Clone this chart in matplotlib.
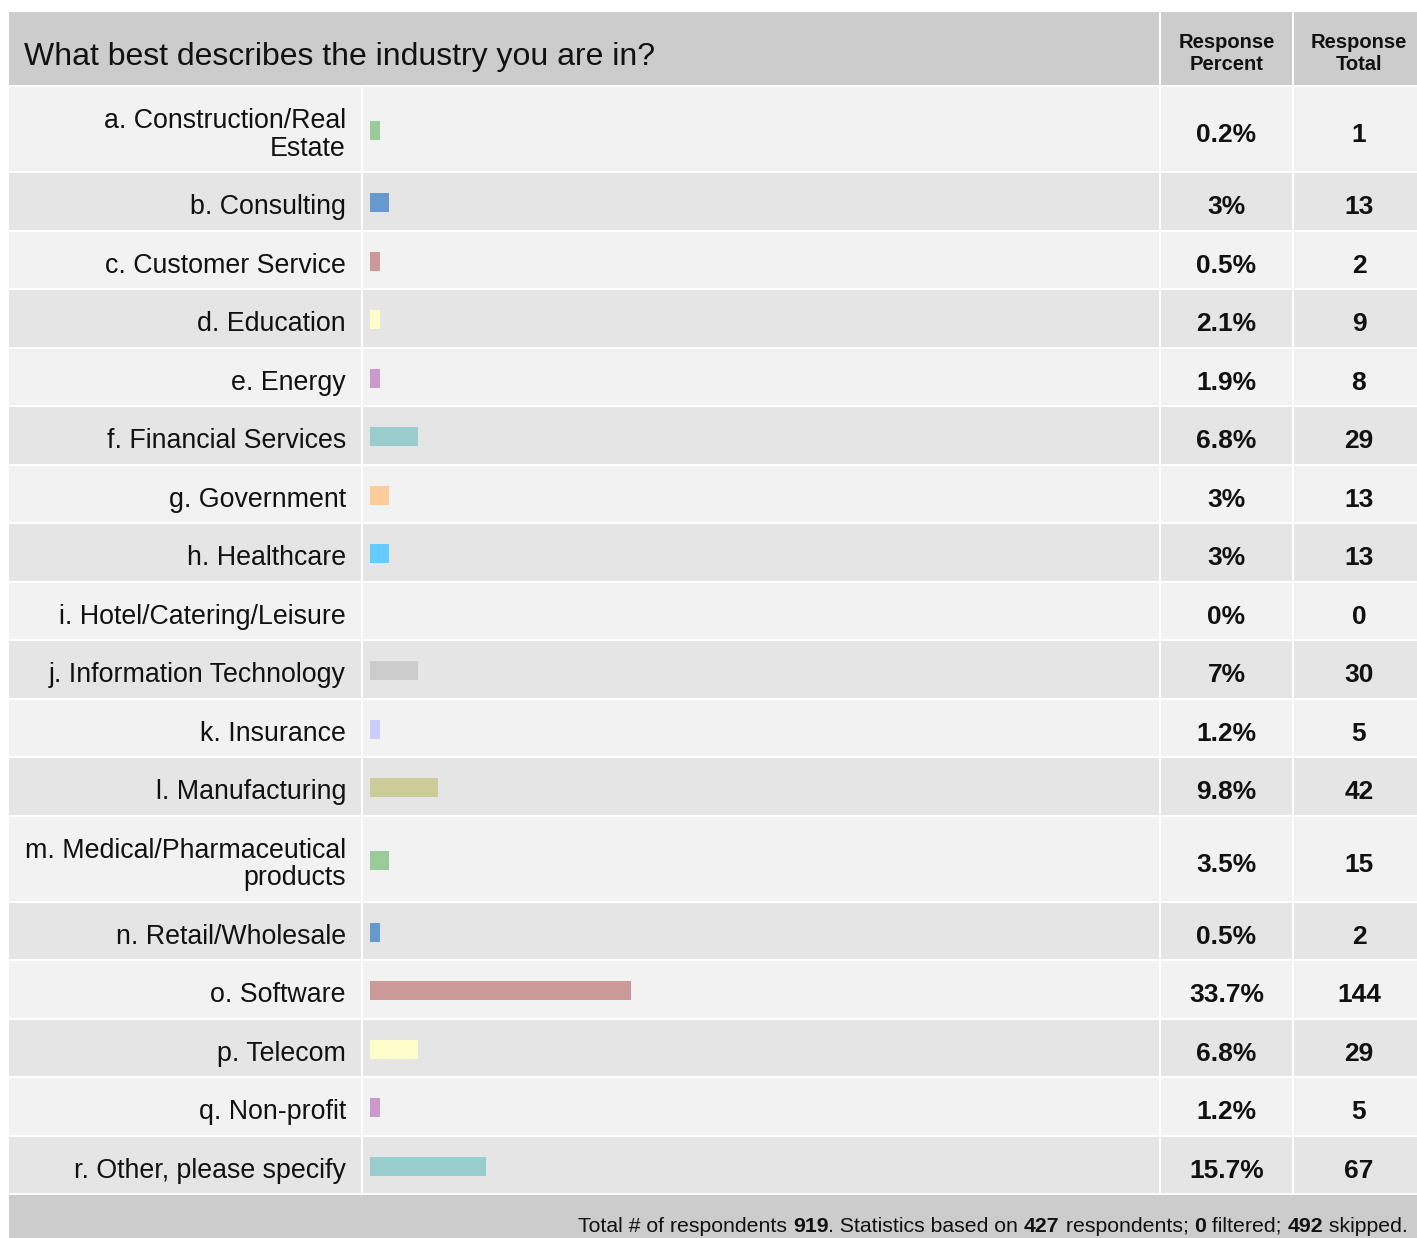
import matplotlib
matplotlib.use("Agg")
import matplotlib.pyplot as plt
from matplotlib.patches import Rectangle
import math

plt.rcParams['font.family'] = ['Liberation Sans', 'DejaVu Sans']

title = "What best describes the industry you are in?"
categories = [
    "a. Construction/Real\nEstate", "b. Consulting", "c. Customer Service",
    "d. Education", "e. Energy", "f. Financial Services", "g. Government",
    "h. Healthcare", "i. Hotel/Catering/Leisure", "j. Information Technology",
    "k. Insurance", "l. Manufacturing", "m. Medical/Pharmaceutical\nproducts",
    "n. Retail/Wholesale", "o. Software", "p. Telecom", "q. Non-profit",
    "r. Other, please specify",
]
percent_labels = ["0.2%", "3%", "0.5%", "2.1%", "1.9%", "6.8%", "3%", "3%", "0%",
                  "7%", "1.2%", "9.8%", "3.5%", "0.5%", "33.7%", "6.8%", "1.2%", "15.7%"]
totals = [1, 13, 2, 9, 8, 29, 13, 13, 0, 30, 5, 42, 15, 2, 144, 29, 5, 67]
bar_colors = ["#99cc99", "#6699cc", "#cc9999", "#ffffcc", "#cc99cc", "#99cccc",
              "#ffcc99", "#66ccff", "#ffffff", "#cccccc", "#ccccff", "#cccc99",
              "#99cc99", "#6699cc", "#cc9999", "#ffffcc", "#cc99cc", "#99cccc"]
header_cols = ["Response\nPercent", "Response\nTotal"]
footer_parts = [("Total # of respondents ", False), ("919", True),
                (". Statistics based on ", False), ("427", True),
                (" respondents; ", False), ("0", True), (" filtered; ", False),
                ("492", True), (" skipped.", False)]

W, H = 1417, 1238
fig = plt.figure(figsize=(W / 100, H / 100), dpi=100)
ax = fig.add_axes([0, 0, 1, 1])
ax.set_xlim(0, W)
ax.set_ylim(H, 0)
ax.axis("off")

# layout
x0, x_lab, x_bar, x_pct, x1 = 9, 361, 1159, 1292, 1417
gap = 2
top = 12
header_bot = 85
pitch_single, pitch_double = 58.5, 86
txt = "#111111"
pct_cx = (x_bar + gap + x_pct) / 2
tot_cx = 1359

# header
ax.add_patch(Rectangle((x0, top), x_bar - x0, header_bot - top, color="#cccccc", lw=0))
ax.add_patch(Rectangle((x_bar + gap, top), x_pct - x_bar - gap, header_bot - top, color="#cccccc", lw=0))
ax.add_patch(Rectangle((x_pct + gap, top), x1 - x_pct - gap, header_bot - top + 0, color="#cccccc", lw=0))
ax.text(24, (top + header_bot) / 2 + 8, title, fontsize=23, ha="left", va="center", color=txt)
ax.text(pct_cx, (top + header_bot) / 2 + 5, header_cols[0], fontsize=14.5,
        fontweight="bold", ha="center", va="center", linespacing=1.2, color=txt)
ax.text(tot_cx, (top + header_bot) / 2 + 5, header_cols[1], fontsize=14.5,
        fontweight="bold", ha="center", va="center", linespacing=1.2, color=txt)

# rows
max_total = max(totals)
tile_w = 9.65
max_tiles = 27
y = header_bot + gap
for i, (cat, pl, tot, col) in enumerate(zip(categories, percent_labels, totals, bar_colors)):
    pitch = pitch_double if "\n" in cat else pitch_single
    h = pitch - gap
    bg = "#f2f2f2" if i % 2 == 0 else "#e5e5e5"
    ax.add_patch(Rectangle((x0, y), x_lab - x0, h, color=bg, lw=0))
    ax.add_patch(Rectangle((x_lab + gap, y), x_bar - x_lab - gap, h, color=bg, lw=0))
    ax.add_patch(Rectangle((x_bar + gap, y), x_pct - x_bar - gap, h, color=bg, lw=0))
    ax.add_patch(Rectangle((x_pct + gap, y), x1 - x_pct - gap, h, color=bg, lw=0))
    cy = y + h / 2
    ax.text(346, cy + 6, cat, fontsize=19.3, ha="right", va="center", linespacing=1.08, color=txt)
    ax.text(pct_cx, cy + 6, pl, fontsize=19, fontweight="bold",
            ha="center", va="center", color=txt)
    ax.text(tot_cx, cy + 6, str(tot), fontsize=19, fontweight="bold",
            ha="center", va="center", color=txt)
    if tot > 0:
        tiles = max(1, math.floor(tot * max_tiles / max_total))
        ax.barh(cy + 1.5, tiles * tile_w, left=370, height=19, color=col, lw=0)
    y += pitch

# footer
ax.add_patch(Rectangle((x0, y), x1 - x0, H - y + 5, color="#cccccc", lw=0))
fig.canvas.draw()
renderer = fig.canvas.get_renderer()
xr = 1408
fy = (y + H) / 2 + 10
for text, bold in reversed(footer_parts):
    t = ax.text(xr, fy, text, fontsize=15.3, fontweight="bold" if bold else "normal",
                ha="right", va="center", color=txt)
    bb = t.get_window_extent(renderer)
    xr -= bb.width

fig.savefig("out.png", dpi=100)
